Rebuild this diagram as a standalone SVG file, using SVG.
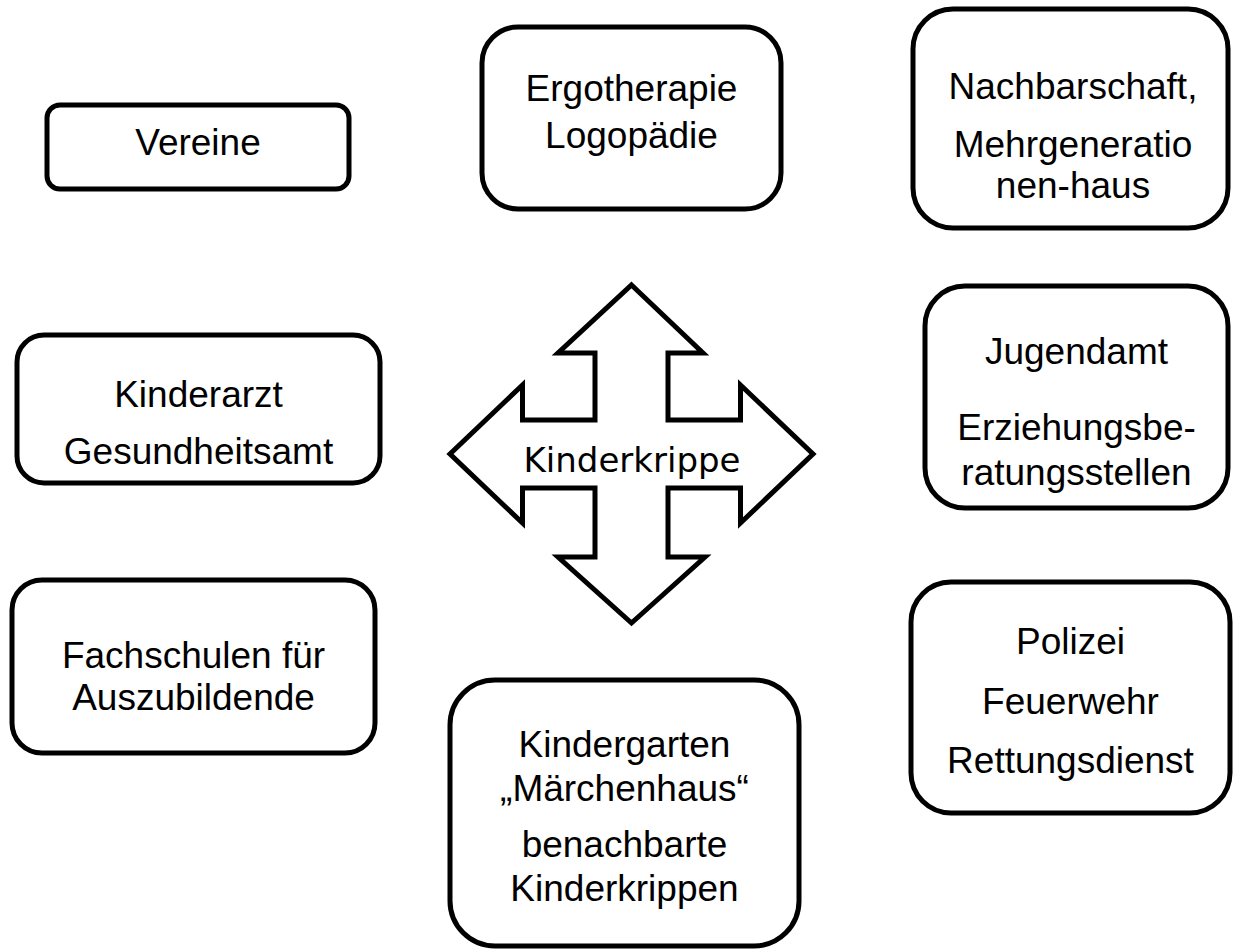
<svg xmlns="http://www.w3.org/2000/svg" width="1233" height="951" viewBox="0 0 1233 951">
<style>
.box{fill:#fff;stroke:#000;stroke-width:5}
.t{font-family:"Liberation Sans",Arial,sans-serif;font-size:37px;fill:#000;text-anchor:middle}
.c{font-family:"DejaVu Sans",sans-serif;font-size:34px;fill:#000;text-anchor:middle}
</style>
<rect width="1233" height="951" fill="#fff"/>
<g id="connectors">
<polygon fill="#fff" stroke="#000" stroke-width="5" stroke-linejoin="miter" points="631.5,285 703,353 668,353 668,420 740.5,420 740.5,385 813,454 740.5,523 740.5,488 668,488 668,557 705,557 631.5,623 558,557 595,557 595,488 522.5,488 522.5,523 450,454 522.5,385 522.5,420 595,420 595,353 558,353"/>
</g>
<g id="center"><text class="c" x="632" y="472">Kinderkrippe</text></g>
<g id="vereine"><rect class="box" x="47" y="105" width="302" height="84" rx="13"/><text class="t" x="198" y="155">Vereine</text></g>
<g id="ergo"><rect class="box" x="482" y="27" width="299" height="182" rx="36"/><text class="t" x="631.5" y="101">Ergotherapie</text><text class="t" x="631.5" y="148">Logopädie</text></g>
<g id="nachbar"><rect class="box" x="913" y="9" width="315" height="219" rx="40"/><text class="t" x="1073" y="99">Nachbarschaft,</text><text class="t" x="1073" y="157">Mehrgeneratio</text><text class="t" x="1073" y="198">nen-haus</text></g>
<g id="arzt"><rect class="box" x="17" y="335" width="363" height="148" rx="27"/><text class="t" x="198.5" y="407">Kinderarzt</text><text class="t" x="198.5" y="464">Gesundheitsamt</text></g>
<g id="jugend"><rect class="box" x="925" y="286" width="303" height="222" rx="40"/><text class="t" x="1076.5" y="364">Jugendamt</text><text class="t" x="1076.5" y="440">Erziehungsbe-</text><text class="t" x="1076.5" y="485">ratungsstellen</text></g>
<g id="fach"><rect class="box" x="12" y="580" width="363" height="173" rx="30"/><text class="t" x="193.5" y="668">Fachschulen für</text><text class="t" x="193.5" y="710">Auszubildende</text></g>
<g id="polizei"><rect class="box" x="911" y="582" width="319" height="231" rx="40"/><text class="t" x="1070.5" y="654">Polizei</text><text class="t" x="1070.5" y="714">Feuerwehr</text><text class="t" x="1070.5" y="773">Rettungsdienst</text></g>
<g id="kiga"><rect class="box" x="450" y="680" width="349" height="266" rx="45"/><text class="t" x="624.5" y="757">Kindergarten</text><text class="t" x="624.5" y="801">„Märchenhaus“</text><text class="t" x="624.5" y="857">benachbarte</text><text class="t" x="624.5" y="901">Kinderkrippen</text></g>
</svg>
